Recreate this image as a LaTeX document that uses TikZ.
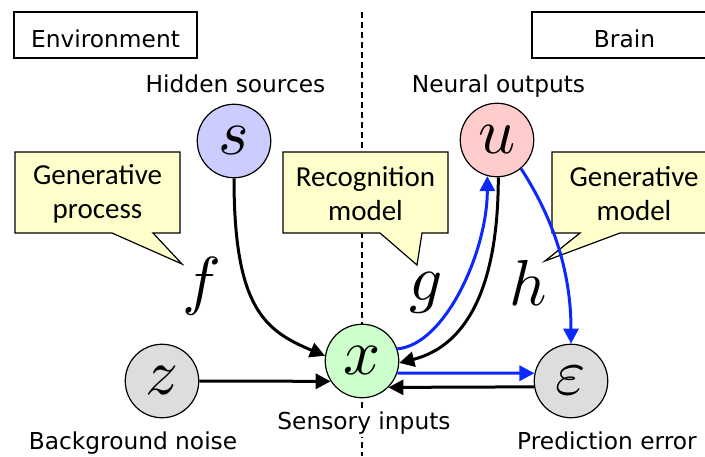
\documentclass[tikz,border=0pt]{standalone}
\usepackage{fontspec}
\newfontfamily\lblfont{DejaVu Sans}
\newfontfamily\calfont{Carlito}
\usetikzlibrary{arrows.meta}
\definecolor{cS}{RGB}{204,204,255}
\definecolor{cU}{RGB}{255,204,204}
\definecolor{cX}{RGB}{204,255,204}
\definecolor{cG}{RGB}{221,221,221}
\definecolor{callfill}{RGB}{255,255,204}
\definecolor{arrblue}{RGB}{10,40,255}
\newcommand{\varsym}[1]{\scalebox{6.5}{$#1$}}
\begin{document}
\begin{tikzpicture}[x=1pt,y=-1pt,
  var/.style={circle,draw,line width=1.2pt,minimum size=73.5pt,inner sep=0pt},
  lbl/.style={font=\lblfont\fontsize{23.3}{28}\selectfont,inner sep=0pt},
  regionbox/.style={draw,line width=1.2pt,minimum width=183pt,minimum height=46pt,inner sep=0pt},
  callout/.style={draw,fill=callfill,line width=1.2pt,line join=miter},
  caltext/.style={font=\calfont\fontsize{29}{34}\selectfont,align=center,inner sep=0pt},
  fname/.style={inner sep=0pt,anchor=base},
  conn/.style={line width=3pt,-{Triangle[length=15pt,width=15pt]}},
  bconn/.style={conn,arrblue}]
\useasboundingbox (0,0) rectangle (705,456);
\clip (0,0) rectangle (705,456);
% boundary between environment and brain
\draw[line width=1.3pt,dash pattern=on 6pt off 4pt] (362,12) -- (362,456);
% region boxes
\node[regionbox] (envbox) at (105.5,35) {};
\node[lbl,anchor=base] (envtxt) at (105.5,47) {Environment};
\node[regionbox] (brainbox) at (623.5,35) {};
\node[lbl,anchor=base] (braintxt) at (624.5,47) {Brain};
% callouts
\draw[callout] (15,152) -- (180,152) -- (180,233) -- (153,233) -- (182,264) -- (112,233) -- (15,233) -- cycle;
\node[caltext] (gp) at (97.5,194) {Generative\\process};
\draw[callout] (283,152) -- (448,152) -- (448,233) -- (422,233) -- (417,265) -- (380,233) -- (283,233) -- cycle;
\node[caltext] (rm) at (365.5,194) {Recognition\\model};
\draw[callout] (552,152) -- (716,152) -- (716,233) -- (620,233) -- (545,261) -- (580,233) -- (552,233) -- cycle;
\node[caltext] (gm) at (634,194) {Generative\\model};
% variables
\node[var,fill=cS] (s) at (234,141) {\varsym{s}};
\node[var,fill=cU] (u) at (497,140) {\varsym{u}};
\node[var,fill=cX] (x) at (362,361) {\varsym{x}};
\node[var,fill=cG] (z) at (162,381) {\varsym{z}};
\node[var,fill=cG] (e) at (571,381) {\varsym{\varepsilon}};
% labels
\node[lbl,anchor=base] (ls) at (235.5,92) {Hidden sources};
\node[lbl,anchor=base] (lu) at (498.5,92) {Neural outputs};
\node[lbl,anchor=base,fill=white,inner sep=3pt] (lx) at (364,429) {Sensory inputs};
\node[lbl,anchor=base] (lz) at (133,449.5) {Background noise};
\node[lbl,anchor=base west] (le) at (517,449.5) {Prediction error};
% function names
\node[fname] (f) at (202,302) {\varsym{f}};
\node[fname] (g) at (426,300) {\varsym{g}};
\node[fname] (h) at (528,305) {\varsym{h}};
% connectors
\draw[conn] (s.south) .. controls +(0,130) and +(-60,-25) .. (x.172);
\draw[conn] (z.east) -- (x.213);
\draw[bconn] (x.19) .. controls +(48,-4) and +(0,75) .. (u.255);
\draw[conn] (u.-88) .. controls +(0,103) and +(71,-18) .. (x.-3);
\draw[bconn] (u.-50) .. controls +(24,37) and +(0,-84) .. (e.north);
\draw[bconn] (x.-19) -- (e.168);
\draw[conn] (e.189) -- (x.-45);
\end{tikzpicture}
\end{document}
